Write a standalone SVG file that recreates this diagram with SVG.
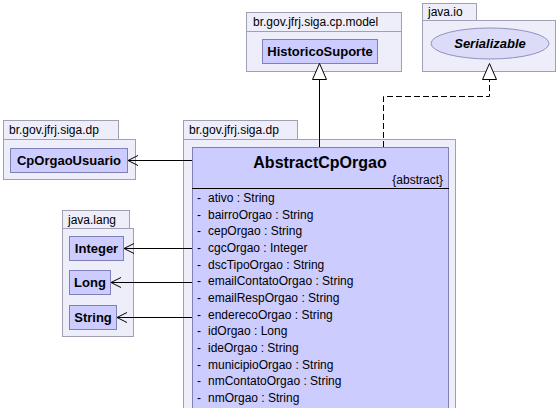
<svg xmlns="http://www.w3.org/2000/svg" width="559" height="408" viewBox="0 0 559 408">
<style>
.pkg{fill:#eeeefa;stroke:#a0a0b4;stroke-width:1}
.cls{fill:#ccccff;stroke:#8080b8;stroke-width:1}
.t{font-family:"Liberation Sans",Arial,sans-serif;font-size:12px;fill:#000}
.b{font-family:"Liberation Sans",Arial,sans-serif;font-size:13px;font-weight:bold;fill:#000}
.ln{stroke:#000;stroke-width:1;fill:none}
.dash{stroke:#000;stroke-width:1;fill:none;stroke-dasharray:6,3}
.tri{fill:#fff;stroke:#000;stroke-width:1}
</style>
<defs>
<marker id="open" markerWidth="12" markerHeight="12" refX="11" refY="6" orient="auto" markerUnits="userSpaceOnUse">
<path d="M1,1 L11,6 L1,11" fill="none" stroke="#000" stroke-width="1"/>
</marker>
</defs>

<g id="pkg-cp-model">
<rect class="pkg" x="246.5" y="12.5" width="155" height="19"/>
<rect class="pkg" x="246.5" y="31.5" width="155" height="40"/>
<text class="t" x="253" y="26">br.gov.jfrj.siga.cp.model</text>
</g>
<g id="HistoricoSuporte">
<rect class="cls" x="262.5" y="39.5" width="115" height="24"/>
<text class="b" x="320" y="56" text-anchor="middle">HistoricoSuporte</text>
</g>

<g id="pkg-java-io">
<rect class="pkg" x="422.5" y="3.5" width="54" height="17"/>
<rect class="pkg" x="422.5" y="20.5" width="133" height="51"/>
<text class="t" x="428" y="16">java.io</text>
</g>
<g id="Serializable">
<ellipse cx="490" cy="43.5" rx="59" ry="15.5" fill="#dcdcf8" stroke="#9090c0"/>
<text class="b" x="490" y="48" text-anchor="middle" font-style="italic">Serializable</text>
</g>

<g id="pkg-dp-left">
<rect class="pkg" x="3.5" y="120.5" width="115" height="19"/>
<rect class="pkg" x="3.5" y="139.5" width="132" height="40"/>
<text class="t" x="9" y="134">br.gov.jfrj.siga.dp</text>
</g>
<g id="CpOrgaoUsuario">
<rect class="cls" x="10.5" y="148.5" width="117" height="24"/>
<text class="b" x="69" y="165" text-anchor="middle">CpOrgaoUsuario</text>
</g>

<g id="pkg-java-lang">
<rect class="pkg" x="62.5" y="210.5" width="67" height="18"/>
<rect class="pkg" x="62.5" y="228.5" width="71" height="108"/>
<text class="t" x="68" y="224">java.lang</text>
</g>
<g id="Integer">
<rect class="cls" x="69.5" y="236.5" width="54" height="24"/>
<text class="b" x="96.5" y="253" text-anchor="middle">Integer</text>
</g>
<g id="Long">
<rect class="cls" x="69.5" y="270.5" width="41" height="24"/>
<text class="b" x="90" y="287" text-anchor="middle">Long</text>
</g>
<g id="String">
<rect class="cls" x="69.5" y="305.5" width="47" height="24"/>
<text class="b" x="93" y="322" text-anchor="middle">String</text>
</g>

<g id="pkg-dp-main">
<rect class="pkg" x="183.5" y="120.5" width="114" height="19"/>
<rect class="pkg" x="183.5" y="139.5" width="272" height="290"/>
<text class="t" x="189" y="134">br.gov.jfrj.siga.dp</text>
</g>
<g id="AbstractCpOrgao">
<rect class="cls" x="192.5" y="147.5" width="256" height="280"/>
<text x="320" y="168" text-anchor="middle" font-family="Liberation Sans,Arial,sans-serif" font-size="16" font-weight="bold">AbstractCpOrgao</text>
<text class="t" x="443" y="184" text-anchor="end">{abstract}</text>
<line x1="192" y1="188.5" x2="449" y2="188.5" stroke="#000"/>
<g class="t">
<text x="197" y="202">-</text><text x="208" y="202">ativo : String</text>
<text x="197" y="218.7">-</text><text x="208" y="218.7">bairroOrgao : String</text>
<text x="197" y="235.3">-</text><text x="208" y="235.3">cepOrgao : String</text>
<text x="197" y="252">-</text><text x="208" y="252">cgcOrgao : Integer</text>
<text x="197" y="268.7">-</text><text x="208" y="268.7">dscTipoOrgao : String</text>
<text x="197" y="285.3">-</text><text x="208" y="285.3">emailContatoOrgao : String</text>
<text x="197" y="302">-</text><text x="208" y="302">emailRespOrgao : String</text>
<text x="197" y="318.7">-</text><text x="208" y="318.7">enderecoOrgao : String</text>
<text x="197" y="335.3">-</text><text x="208" y="335.3">idOrgao : Long</text>
<text x="197" y="352">-</text><text x="208" y="352">ideOrgao : String</text>
<text x="197" y="368.7">-</text><text x="208" y="368.7">municipioOrgao : String</text>
<text x="197" y="385.3">-</text><text x="208" y="385.3">nmContatoOrgao : String</text>
<text x="197" y="402">-</text><text x="208" y="402">nmOrgao : String</text>
</g>
</g>

<g id="connectors">
<line class="ln" x1="192" y1="160.5" x2="128" y2="160.5" marker-end="url(#open)"/>
<line class="ln" x1="192" y1="248.5" x2="124" y2="248.5" marker-end="url(#open)"/>
<line class="ln" x1="192" y1="282.5" x2="111" y2="282.5" marker-end="url(#open)"/>
<line class="ln" x1="192" y1="317.5" x2="117" y2="317.5" marker-end="url(#open)"/>
<line class="ln" x1="319.5" y1="147" x2="319.5" y2="79"/>
<path class="tri" d="M319.5,63.5 L312.5,79.5 L326.5,79.5 Z"/>
<path class="dash" d="M383.5,147 L383.5,96.5 L489.5,96.5 L489.5,79.5"/>
<path class="tri" d="M489.5,63.5 L482.5,79.5 L496.5,79.5 Z"/>
</g>
</svg>
